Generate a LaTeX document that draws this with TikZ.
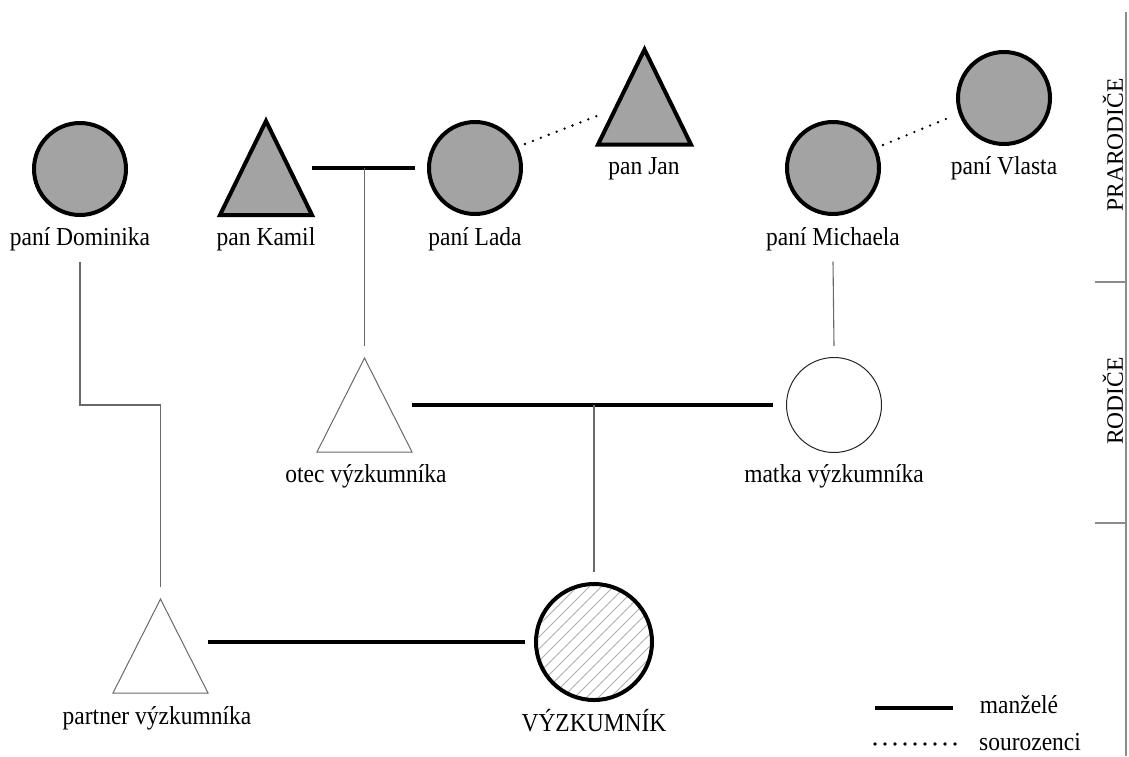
\documentclass[tikz,border=0pt]{standalone}
\usepackage{fontspec}
\usepackage{graphicx}
\setmainfont{Liberation Serif}
\usetikzlibrary{calc}
\definecolor{gpfill}{RGB}{163,163,163}
\definecolor{thinc}{RGB}{105,105,105}
\definecolor{axisc}{RGB}{140,140,140}
\definecolor{hatchc}{RGB}{175,175,175}
\newcommand{\vstr}[1]{\scalebox{1}[1.1]{#1}}
\begin{document}
\begin{tikzpicture}[x=1pt,y=-1pt,
  every node/.style={font=\fontsize{23.5}{28}\selectfont},
  gpcircle/.style={circle, draw=black, line width=4pt, fill=gpfill, minimum size=92pt, inner sep=0pt},
  thincircle/.style={circle, draw=black!85, line width=1pt, fill=white, minimum size=95pt, inner sep=0pt},
  tribox/.style={inner sep=0pt, outer sep=0pt},
  gptri/.style={draw=black, line width=4pt, fill=gpfill, line join=miter},
  thintri/.style={draw=thinc, line width=1pt},
  lbl/.style={anchor=base, inner sep=0pt},
  marriage/.style={line width=4.5pt, black},
  thinl/.style={line width=1.1pt, thinc},
  sib/.style={line width=2.6pt, black, dash pattern=on 0pt off 8.5pt, line cap=round},
  legsib/.style={line width=3.8pt, black, dash pattern=on 0pt off 10pt, line cap=round},
  axisline/.style={line width=1.5pt, axisc},
  axislbl/.style={rotate=90, inner sep=0pt, font=\fontsize{23.5}{28}\selectfont},
  hatch/.style={line width=0.8pt, hatchc}
]
\useasboundingbox (0,0) rectangle (1129,756);

% grandparents
\node[gpcircle] (dominika) at (80,169) {};
\node[tribox, minimum width=92pt, minimum height=94pt] (kamil) at (266,168) {};
\draw[gptri] (kamil.south west) -- (kamil.north) -- (kamil.south east) -- cycle;
\node[gpcircle] (lada) at (475,168) {};
\node[tribox, minimum width=93pt, minimum height=95pt] (jan) at (644.5,97) {};
\draw[gptri] (jan.south west) -- (jan.north) -- (jan.south east) -- cycle;
\node[gpcircle] (michaela) at (833,168) {};
\node[gpcircle] (vlasta) at (1004,98) {};

% parents
\node[tribox, minimum width=95pt, minimum height=94pt] (otec) at (364.5,405) {};
\draw[thintri] (otec.south west) -- (otec.north) -- (otec.south east) -- cycle;
\node[thincircle] (matka) at (834,405) {};

% generation of researcher
\node[tribox, minimum width=95pt, minimum height=94pt] (partner) at (160.5,646) {};
\draw[thintri] (partner.south west) -- (partner.north) -- (partner.south east) -- cycle;
\node[circle, minimum size=116pt, inner sep=0pt] (vy) at (594,642) {};
\begin{scope}
  \clip (594,642) circle (57);
  \foreach \k in {-12,...,12} {
    \draw[hatch] (594+\k*12-90, 642+90) -- ++(180,-180);
  }
\end{scope}
\draw[black, line width=4pt] (vy) circle (58);

% labels
\node[lbl] (ldom) at (80,245) {\vstr{paní Dominika}};
\node[lbl] (lkam) at (266,245) {\vstr{pan Kamil}};
\node[lbl] (llad) at (475,245) {\vstr{paní Lada}};
\node[lbl] (ljan) at (644,174) {\vstr{pan Jan}};
\node[lbl] (lmic) at (833,245) {\vstr{paní Michaela}};
\node[lbl] (lvla) at (1004,174) {\vstr{paní Vlasta}};
\node[lbl] (lote) at (366,482) {\vstr{otec výzkumníka}};
\node[lbl] (lmat) at (834,482) {\vstr{matka výzkumníka}};
\node[lbl] (lpar) at (157,724) {\vstr{partner výzkumníka}};
\node[lbl] (lvy) at (594,731) {\vstr{VÝZKUMNÍK}};

% marriages and descent
\draw[marriage] (kamil.east) -- ([xshift=-12pt]lada.west);
\coordinate (kl) at (otec.north |- kamil.east);
\draw[thinl] (kl) -- ([yshift=12pt]otec.north);

\draw[marriage] (otec.east) -- ([xshift=-13pt]matka.west);
\coordinate (om) at (vy.north |- otec.east);
\draw[thinl] (om) -- ([yshift=12pt]vy.north);

\draw[marriage] (partner.east |- vy.west) -- ([xshift=-11pt]vy.west);

\draw[thinl] ([yshift=-11pt]lmic.south) -- ([yshift=11pt]matka.north);

\coordinate (dbend) at (120,405);
\draw[thinl] ([yshift=-11pt]ldom.south) |- (dbend) -| ([yshift=12pt]partner.north);

% siblings
\draw[sib] ([shift={(50pt,24pt)}]lada.center) -- ([shift={(-42.5pt,-17pt)}]jan.center);
\draw[sib] ([shift={(50pt,23pt)}]michaela.center) -- ([shift={(-51pt,-18pt)}]vlasta.center);

% axis on the right
\coordinate (axtop) at (1126,12);
\coordinate (axbot) at (1126,756);
\draw[axisline] (axtop) -- (axbot);
\draw[axisline] (1095,282) -- (1126,282);
\draw[axisline] (1095,523) -- (1126,523);
\node[axislbl] (gen1) at (1113,145) {PRARODIČE};
\node[axislbl] (gen2) at (1113,401) {RODIČE};

% legend
\coordinate (lega) at (875,708);
\coordinate (legb) at (875,744);
\draw[marriage] (lega) -- ++(78,0);
\draw[legsib] (legb) -- ++(82,0);
\node[lbl] (legm) at (1019,713) {\vstr{manželé}};
\node[lbl] (legs) at (1030,750) {\vstr{sourozenci}};
\end{tikzpicture}
\end{document}
